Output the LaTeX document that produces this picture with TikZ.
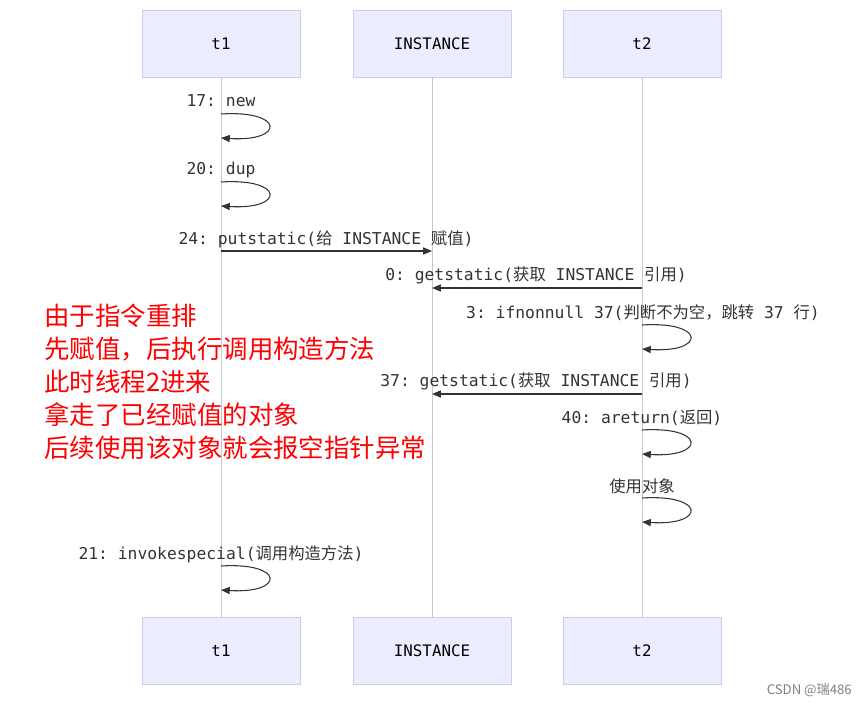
\documentclass[tikz,border=0pt]{standalone}
\usepackage{fontspec}
\setmainfont{DejaVu Sans}
\setmonofont{DejaVu Sans Mono}
\newfontfamily\cjk{Noto Sans CJK SC}
\usetikzlibrary{arrows.meta,positioning}
\definecolor{boxfill}{HTML}{ECECFF}
\definecolor{boxline}{HTML}{CCCCEE}
\definecolor{lifegray}{HTML}{C8C8C8}
\definecolor{msgline}{HTML}{333333}
\tikzset{
  actor/.style={draw=boxline, fill=boxfill, minimum width=158*0.02cm, minimum height=67*0.02cm, font=\ttfamily\small},
  msg/.style={font=\ttfamily\fontsize{9.3}{11}\selectfont, text=black!80},
  call/.style={msgline, semithick, -{Triangle[length=5pt,width=4pt]}},
  note/.style={text=red, font=\cjk\fontsize{14.5}{17}\selectfont, anchor=west}
}
\newcommand{\selfloop}[2]{%
  \draw[call] (#1,#2) .. controls (#1+64,#2-4) and (#1+64,#2+28) .. (#1,#2+24);}

\begin{document}
\begin{tikzpicture}[x=0.02cm, y=-0.02cm]
    \useasboundingbox (0,0) rectangle (861,705);

    % Actors top and bottom
    \node[actor] (t1top) at (221,43.5) {t1};
    \node[actor] (instop) at (432,43.5) {INSTANCE};
    \node[actor] (t2top) at (642,43.5) {t2};
    \node[actor] (t1bot) at (221,650.5) {t1};
    \node[actor] (insbot) at (432,650.5) {INSTANCE};
    \node[actor] (t2bot) at (642,650.5) {t2};

    % Lifelines
    \draw[lifegray] (t1top) -- (t1bot);
    \draw[lifegray] (instop) -- (insbot);
    \draw[lifegray] (t2top) -- (t2bot);

    % t1: new, dup
    \node[msg] (m17) at (221,101) {17: new};
    \selfloop{221}{114}
    \node[msg] (m20) at (221,170) {20: dup};
    \selfloop{221}{182}

    % putstatic
    \node[msg] (m24) at (326,239) {24: putstatic({\cjk 给} INSTANCE {\cjk 赋值})};
    \coordinate (p1) at (221,251);
    \coordinate (p2) at (432,251);
    \draw[call] (p1) -- (p2);

    % t2: getstatic
    \node[msg] (m0) at (536,275) {0: getstatic({\cjk 获取} INSTANCE {\cjk 引用})};
    \coordinate (g1) at (642,288);
    \coordinate (g2) at (432,288);
    \draw[call] (g1) -- (g2);

    \node[msg] (m3) at (643,313) {3: ifnonnull 37({\cjk 判断不为空，跳转} 37 {\cjk 行})};
    \selfloop{642}{325}

    \node[msg] (m37) at (536,381) {37: getstatic({\cjk 获取} INSTANCE {\cjk 引用})};
    \coordinate (h1) at (642,394);
    \coordinate (h2) at (432,394);
    \draw[call] (h1) -- (h2);

    \node[msg] (m40) at (642,418) {40: areturn({\cjk 返回})};
    \selfloop{642}{430}

    \node[msg, font=\cjk\fontsize{9.3}{11}\selectfont] (use) at (642,486) {使用对象};
    \selfloop{642}{498}

    % t1: invokespecial
    \node[msg] (m21) at (221,554) {21: invokespecial({\cjk 调用构造方法})};
    \selfloop{221}{566}

    % Red note
    \node[note] (n1) at (38,316) {由于指令重排};
    \node[note] (n2) at (38,349) {先赋值，后执行调用构造方法};
    \node[note] (n3) at (38,382) {此时线程2进来};
    \node[note] (n4) at (38,415) {拿走了已经赋值的对象};
    \node[note] (n5) at (38,448) {后续使用该对象就会报空指针异常};

    \node[text=gray, font=\cjk\fontsize{7.5}{9}\selectfont, anchor=east] (wm) at (858,690) {CSDN @瑞486};
\end{tikzpicture}
\end{document}
